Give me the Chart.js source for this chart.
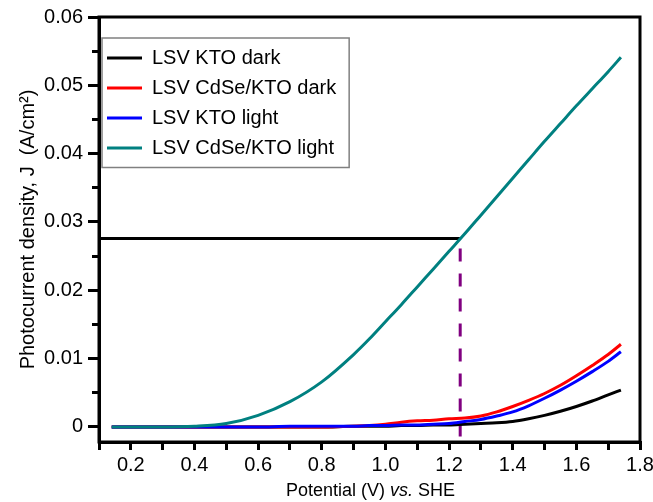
<!DOCTYPE html>
<html>
<head>
<meta charset="utf-8">
<script src="https://cdn.jsdelivr.net/npm/chart.js@4/dist/chart.umd.min.js"></script>
<style>
html,body{margin:0;padding:0;background:#ffffff;}
#wrap{width:653px;height:502px;position:relative;}
</style>
</head>
<body>
<div id="wrap"><canvas id="c"></canvas></div>
<script>
// ---- data ----
const potential = [0.14,0.2,0.3,0.4,0.5,0.6,0.7,0.8,0.9,0.95,1.0,1.05,1.1,1.15,1.2,1.25,1.3,1.35,1.4,1.45,1.5,1.55,1.6,1.65,1.7,1.74];
const ktoDark   = [0,0,0,0,0,0,0,0,0.0001,0.0001,0.0001,0.0002,0.0002,0.0003,0.0003,0.0004,0.0005,0.0006,0.0008,0.0012,0.0017,0.0023,0.0030,0.0038,0.0047,0.0054];
const cdseDark  = [0,0,0,0,0,0,0,0,0.0001,0.0002,0.0004,0.0007,0.0009,0.0010,0.0012,0.0013,0.0016,0.0022,0.0030,0.0039,0.0049,0.0061,0.0075,0.0090,0.0106,0.0121];
const ktoLight  = [0,0,0,0,0,0,0.0001,0.0001,0.0001,0.0002,0.0002,0.0003,0.0003,0.0004,0.0005,0.0008,0.0011,0.0016,0.0022,0.0031,0.0042,0.0054,0.0067,0.0081,0.0096,0.0110];
const cdseLight = [0,0,0,0.0001,0.0005,0.0017,0.0037,0.0066,0.0106,0.0129,0.0154,0.0179,0.0205,0.0231,0.0257,0.0283,0.0310,0.0337,0.0364,0.0391,0.0418,0.0444,0.0470,0.0495,0.0520,0.0541];
const seriesLabels = ['LSV KTO dark','LSV CdSe/KTO dark','LSV KTO light','LSV CdSe/KTO light'];
const markerPotential = [0.1, 1.235];
const markerCurrent = 0.0276;
const xRange = [0.1, 1.8];
const yRange = [-0.0022, 0.06];
const xTicks = [0.1,0.2,0.3,0.4,0.5,0.6,0.7,0.8,0.9,1.0,1.1,1.2,1.3,1.4,1.5,1.6,1.7,1.8];
const xTickLabels = ['','0.2','','0.4','','0.6','','0.8','','1.0','','1.2','','1.4','','1.6','','1.8'];
const yMajorTicks = [0,0.01,0.02,0.03,0.04,0.05,0.06];
const yMajorLabels = ['0','0.01','0.02','0.03','0.04','0.05','0.06'];
const yMinorTicks = [0.005,0.015,0.025,0.035,0.045,0.055];

// ---- chart ----
const FONT = "'Liberation Sans', Arial, Helvetica, sans-serif";
const pts = ys => potential.map((x, i) => ({x: x, y: ys[i]}));
const curve = (label, ys, color, order) => ({
  label: label, data: pts(ys), borderColor: color, backgroundColor: color,
  borderWidth: 3, pointRadius: 0, fill: false, cubicInterpolationMode: 'monotone', order: order
});

const frameAndTitle = {
  id: 'frameAndTitle',
  afterLayout(chart) {
    const lg = chart.legend, a = chart.chartArea;
    if (lg) {
      const w = lg.width, h = lg.height;
      lg.left = a.left - 2; lg.right = lg.left + w;
      lg.top = a.top + 21; lg.bottom = lg.top + h;
    }
  },
  afterDraw(chart) {
    const ctx = chart.ctx, a = chart.chartArea;
    ctx.save();
    // plot frame
    ctx.strokeStyle = '#000'; ctx.lineWidth = 3;
    ctx.strokeRect(a.left, a.top, a.right - a.left, a.bottom - a.top);
    // legend frame
    const hb = chart.legend && chart.legend.legendHitBoxes;
    if (hb && hb.length) {
      let r = 0;
      hb.forEach(h => { r = Math.max(r, h.left + h.width); });
      const last = hb[hb.length - 1];
      const L = hb[0].left - 5, T = hb[0].top - 10, R = r + 13, B = last.top + last.height + 9.5;
      ctx.strokeStyle = '#808080'; ctx.lineWidth = 1.5;
      ctx.strokeRect(L, T, R - L, B - T);
    }
    // x-axis title with italic "vs."
    const parts = [
      {t: 'Potential (V) ', f: '18px ' + FONT},
      {t: 'vs.', f: 'italic 18px ' + FONT},
      {t: ' SHE', f: '18px ' + FONT}
    ];
    let total = 0;
    parts.forEach(p => { ctx.font = p.f; p.w = ctx.measureText(p.t).width; total += p.w; });
    let x = (a.left + a.right) / 2 + 1 - total / 2;
    const y = 491;
    ctx.fillStyle = '#000'; ctx.textBaseline = 'middle'; ctx.textAlign = 'left';
    parts.forEach(p => { ctx.font = p.f; ctx.fillText(p.t, x, y); x += p.w; });
    ctx.restore();
  }
};

new Chart(document.getElementById('c'), {
  type: 'line',
  data: {
    datasets: [
      curve(seriesLabels[0], ktoDark, '#000000', 3),
      curve(seriesLabels[1], cdseDark, '#ff0000', 2),
      curve(seriesLabels[2], ktoLight, '#0000ff', 1),
      curve(seriesLabels[3], cdseLight, '#008080', 0),
      { label: '', data: [{x: markerPotential[0], y: markerCurrent}, {x: markerPotential[1], y: markerCurrent}],
        borderColor: '#000000', borderWidth: 3, pointRadius: 0, tension: 0, order: 4 },
      { label: '', data: [{x: markerPotential[1], y: markerCurrent}, {x: markerPotential[1], y: yRange[0]}],
        borderColor: '#800080', borderWidth: 3, pointRadius: 0, tension: 0, borderDash: [13, 12], borderDashOffset: 15, order: 4 }
    ]
  },
  options: {
    responsive: true,
    maintainAspectRatio: false,
    animation: false,
    layout: { padding: { left: 0, right: 13, top: 17, bottom: 0 } },
    plugins: {
      tooltip: { enabled: false },
      legend: {
        position: 'chartArea',
        align: 'start',
        labels: {
          boxWidth: 35, boxHeight: 3, padding: 10, color: '#000',
          font: { size: 20, family: FONT },
          sort: (a, b) => a.datasetIndex - b.datasetIndex,
          filter: item => item.text !== '',
          generateLabels: chart => Chart.defaults.plugins.legend.labels.generateLabels(chart)
            .map(l => Object.assign({}, l, { fillStyle: l.strokeStyle, lineWidth: 0, lineDash: [] }))
        }
      }
    },
    scales: {
      x: {
        type: 'linear', position: 'bottom', min: xRange[0], max: xRange[1],
        afterBuildTicks: s => { s.ticks = xTicks.map(v => ({value: v})); },
        afterFit: s => { s.height = 60; s.paddingLeft = 0; s.paddingRight = 0; },
        ticks: { callback: (v, i) => xTickLabels[i], autoSkip: false, maxRotation: 0, padding: 3,
                 color: '#000', font: { size: 20, family: FONT } },
        grid: { drawOnChartArea: false, drawTicks: true, tickLength: 8, tickWidth: 3, lineWidth: 3, color: '#000' },
        border: { display: true, width: 3, color: '#000' }
      },
      y: {
        type: 'linear', position: 'left', weight: 1, min: yRange[0], max: yRange[1],
        afterBuildTicks: s => { s.ticks = yMajorTicks.map(v => ({value: v})); },
        afterFit: s => { s.width = 99; s.paddingTop = 0; s.paddingBottom = 0; },
        ticks: { callback: (v, i) => yMajorLabels[i], autoSkip: false, padding: 5,
                 color: '#000', font: { size: 20, family: FONT } },
        grid: { drawOnChartArea: false, drawTicks: true, tickLength: 11, tickWidth: 3, lineWidth: 3, color: '#000' },
        border: { display: true, width: 3, color: '#000' },
        title: { display: true, text: 'Photocurrent density, J  (A/cm\u00B2)', color: '#000',
                 font: { size: 20, family: FONT }, padding: { top: 16, bottom: 0 } }
      },
      yMinor: {
        type: 'linear', position: 'left', weight: 0, min: yRange[0], max: yRange[1],
        afterBuildTicks: s => { s.ticks = yMinorTicks.map(v => ({value: v})); },
        afterFit: s => { s.width = 0; s.paddingTop = 0; s.paddingBottom = 0; },
        ticks: { display: false },
        grid: { drawOnChartArea: false, drawTicks: true, tickLength: 7, tickWidth: 3, lineWidth: 3, color: '#000' },
        border: { display: false }
      }
    }
  },
  plugins: [frameAndTitle]
});
</script>
</body>
</html>
